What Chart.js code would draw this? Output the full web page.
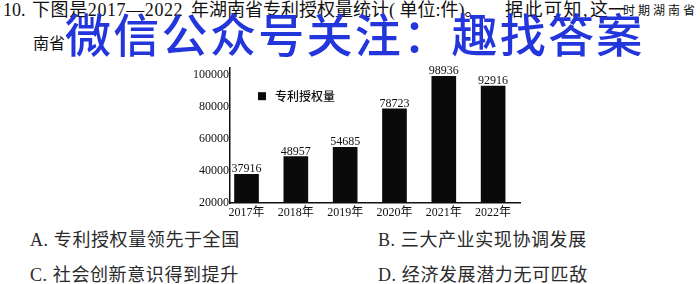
<!DOCTYPE html>
<html>
<head>
<meta charset="utf-8">
<script src="https://cdn.jsdelivr.net/npm/chart.js@4.4.0/dist/chart.umd.min.js"></script>
<style>
body { margin: 0; width: 700px; height: 284px; background: #fff; position: relative; overflow: hidden;
  font-family: "Liberation Serif", "Noto Sans CJK SC", serif; color: #111; }
.t { position: absolute; white-space: nowrap; line-height: 1; }
.q { font-size: 18px; top: 1px; }
.opt { font-size: 18px; color: #2a2a2a; letter-spacing: 0.6px; }
#chartBox { position: absolute; left: 180px; top: 60px; width: 350px; height: 165px; }
.wm { position: absolute; left: 65px; top: 9px; font-family: "Noto Sans CJK SC", sans-serif; font-size: 46px;
  font-weight: 500; color: #2336dc; letter-spacing: 2.3px; line-height: 1; white-space: nowrap; }
</style>
</head>
<body>
<!-- Текст вопроса -->
<div class="t q" style="left:3px">10.</div>
<div class="t q" style="left:32px; letter-spacing:0.6px">下图是2017—2022</div>
<div class="t q" style="left:191px">年湖南省专利授权量统计( 单位:件)。</div>
<div class="t q" style="left:505px; letter-spacing:1.5px">据此可知,</div>
<div class="t q" style="left:590px">这一</div>
<div class="t" style="left:623px; top:5px; font-size:12px; letter-spacing:3px">时期湖南省</div>
<div class="t" style="left:33px; top:36px; font-size:16px">南省</div>

<!-- График -->
<div id="chartBox"><canvas id="myChart" width="350" height="165"></canvas></div>

<!-- Варианты ответа -->
<div class="t opt" style="left:30px; top:231px">A. 专利授权量领先于全国</div>
<div class="t opt" style="left:378px; top:231px">B. 三大产业实现协调发展</div>
<div class="t opt" style="left:30px; top:266px">C. 社会创新意识得到提升</div>
<div class="t opt" style="left:378px; top:266px">D. 经济发展潜力无可匹敌</div>

<!-- Водяной знак -->
<div class="wm">微信公众号关注：趣找答案</div>

<script>
// Годы
let years = ["2017年", "2018年", "2019年", "2020年", "2021年", "2022年"];
// Количество патентов
let values = [37916, 48957, 54685, 78723, 98936, 92916];
// Деления оси Y
let yTicks = [20000, 40000, 60000, 80000, 100000];
// Название ряда
let seriesName = "专利授权量";

let serif = '"Liberation Serif", "Noto Sans CJK SC", serif';

// Подписи над столбцами и легенда внутри графика
let valueLabels = {
    id: 'valueLabels',
    afterDatasetsDraw(chart) {
        let c = chart.ctx;
        let area = chart.chartArea;
        let meta = chart.getDatasetMeta(0);
        c.save();
        c.fillStyle = '#111';
        c.font = '12px ' + serif;
        c.textAlign = 'center';
        c.textBaseline = 'alphabetic';
        meta.data.forEach(function (bar, i) {
            c.fillText(values[i], bar.x, bar.y - 2);
        });
        // Легенда
        c.fillStyle = '#0a0a0a';
        c.fillRect(area.left + 28, area.top + 24, 8, 8);
        c.fillStyle = '#111';
        c.textAlign = 'left';
        c.textBaseline = 'middle';
        c.font = '500 12px "Noto Sans CJK SC", sans-serif';
        c.fillText(seriesName, area.left + 45, area.top + 28);
        c.restore();
    }
};

let ctx = document.getElementById('myChart').getContext('2d');
let chart = new Chart(ctx, {
    type: 'bar',
    data: {
        datasets: [{
            label: seriesName,
            backgroundColor: '#0a0a0a',
            barThickness: 24,
            data: years.map(function (y, i) { return { x: i, y: values[i] }; })
        }]
    },
    options: {
        responsive: false,
        animation: false,
        layout: { padding: { top: 8, right: 10, bottom: 0, left: 0 } },
        plugins: { legend: { display: false }, tooltip: { enabled: false } },
        scales: {
            x: {
                type: 'linear',
                offset: false,
                min: -0.335,
                max: 5.545,
                grid: { display: false, drawTicks: false },
                border: { color: '#111', width: 1.5 },
                afterBuildTicks: function (s) {
                    s.ticks = years.map(function (y, i) { return { value: i }; });
                },
                ticks: {
                    autoSkip: false,
                    maxRotation: 0,
                    padding: 3,
                    color: '#111',
                    font: { family: serif, size: 12 },
                    callback: function (v) { return years[v] !== undefined ? years[v] : ''; }
                },
                afterFit: function (s) { s.height = 22; }
            },
            y: {
                min: 20000,
                max: 104000,
                grid: { display: false, drawTicks: false },
                border: { color: '#111', width: 1.5 },
                afterBuildTicks: function (s) {
                    s.ticks = yTicks.map(function (v) { return { value: v }; });
                },
                ticks: {
                    padding: 1,
                    color: '#111',
                    font: { family: serif, size: 12 },
                    callback: function (v) { return String(v); }
                },
                afterFit: function (s) { s.width = 50; }
            }
        }
    },
    plugins: [valueLabels]
});
</script>
</body>
</html>
